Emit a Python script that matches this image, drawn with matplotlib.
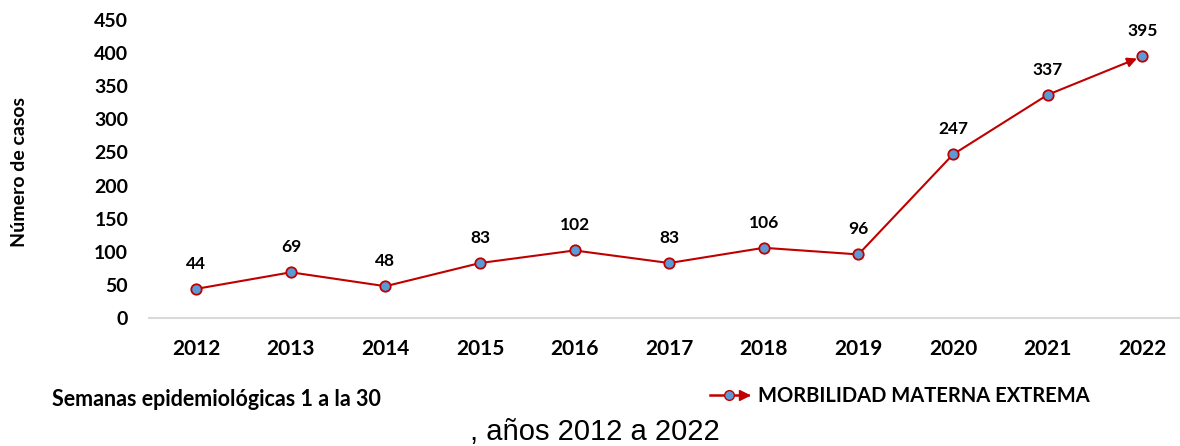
import matplotlib.pyplot as plt
from matplotlib.lines import Line2D
from matplotlib.legend_handler import HandlerLine2D

years = ['2012', '2013', '2014', '2015', '2016', '2017', '2018', '2019', '2020', '2021', '2022']
casos = [44, 69, 48, 83, 102, 83, 106, 96, 247, 337, 395]
yticks = [0, 50, 100, 150, 200, 250, 300, 350, 400, 450]

line_red = '#C00000'
dot_blue = '#5B9BD5'

plt.rcParams['font.family'] = ['Lato', 'DejaVu Sans']


class HandlerArrowLine(HandlerLine2D):
    # legend key: line + circle marker, with an arrowhead at the right end
    def create_artists(self, legend, orig_handle, xdescent, ydescent,
                       width, height, fontsize, trans):
        artists = super().create_artists(legend, orig_handle, xdescent, ydescent,
                                         width, height, fontsize, trans)
        head = Line2D([width - xdescent - 3], [height / 2 - ydescent],
                      marker='>', ms=7, color=line_red, ls='none',
                      transform=trans)
        return list(artists) + [head]


fig = plt.figure(figsize=(11.8, 4.46), dpi=100)
# axes box in figure fractions: x from 149px to 1180px, y from 20px to 318px
ax = fig.add_axes([149 / 1180, (446 - 318) / 446, (1180 - 149) / 1180, (318 - 20) / 446])

x = list(range(len(years)))
ax.plot(x[:-1], casos[:-1], color=line_red, lw=1.5, zorder=2)
ax.annotate('', xy=(x[-1], casos[-1]), xytext=(x[-2], casos[-2]),
            arrowprops=dict(arrowstyle='-|>', color=line_red, lw=1.5,
                            mutation_scale=14, shrinkA=0, shrinkB=4), zorder=2)
ax.plot(x, casos, ls='none', marker='o', ms=7.5, mfc=dot_blue, mec=line_red,
        mew=1.3, zorder=3)

for xi, v in zip(x, casos):
    ax.annotate(str(v), (xi, v), xytext=(0, 18), textcoords='offset points',
                ha='center', va='center', fontsize=12.5, fontweight='bold')

ax.set_xlim(-0.5, 10.4)
ax.set_ylim(0, 450)
ax.set_yticks(yticks)
ax.set_xticks(x)
ax.set_xticklabels(years)
ax.tick_params(axis='x', length=0, labelsize=15, pad=15)
ax.tick_params(axis='y', length=0, labelsize=14, pad=15)
for lbl in ax.get_xticklabels() + ax.get_yticklabels():
    lbl.set_fontweight('bold')

for side in ['top', 'right', 'left']:
    ax.spines[side].set_visible(False)
ax.spines['bottom'].set_color('#D9D9D9')
ax.spines['bottom'].set_linewidth(1.5)

fig.text(20 / 1180, 1 - 172 / 446, 'Número de casos', rotation=90,
         ha='center', va='center', fontsize=14, fontweight='bold')
fig.text(52 / 1180, 1 - 400 / 446, 'Semanas epidemiológicas 1 a la 30',
         ha='left', va='center', fontsize=15.5, fontweight='bold')
fig.text(595 / 1180, 1 - 432 / 446, ', años 2012 a 2022',
         ha='center', va='center', fontsize=21,
         family=['Liberation Sans Narrow', 'Liberation Sans'])

handle = Line2D([], [], color=line_red, lw=1.8, marker='o', ms=7,
                mfc=dot_blue, mec=line_red)
fig.legend([handle], ['MORBILIDAD MATERNA EXTREMA'], loc='center left',
           bbox_to_anchor=(692 / 1180, 1 - 396 / 446), frameon=False,
           prop=dict(weight='bold', size=14.5), handlelength=1.9,
           handletextpad=0.5,
           handler_map={Line2D: HandlerArrowLine(numpoints=1)})

fig.savefig('out.png', dpi=100)
